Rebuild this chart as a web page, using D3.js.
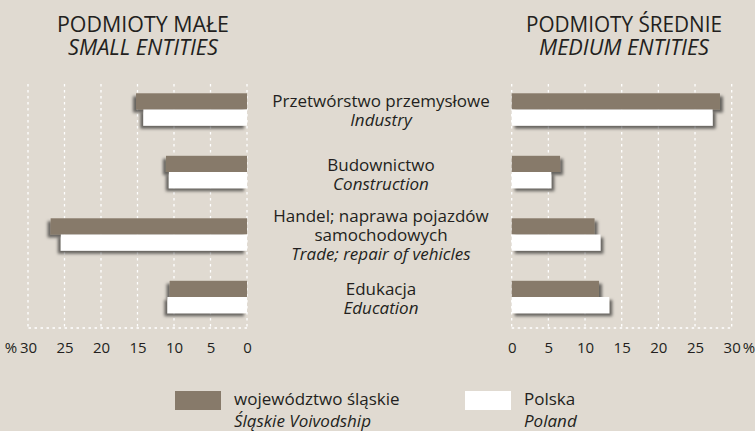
<!DOCTYPE html>
<html>
<head>
<meta charset="utf-8">
<script src="https://cdn.jsdelivr.net/npm/d3@7"></script>
<style>
  body { margin: 0; background: #e0dad1; }
  svg { display: block; font-family: "Open Sans", "Noto Sans", sans-serif; }
  text { fill: #231f20; }
</style>
</head>
<body>
<div class="chart"></div>
<script>
const categories = [
    ["Przetwórstwo przemysłowe", "Industry"],
    ["Budownictwo", "Construction"],
    ["Handel; naprawa pojazdów", "samochodowych", "Trade; repair of vehicles"],
    ["Edukacja", "Education"]
];
const seriesNames = [["województwo śląskie", "Śląskie Voivodship"], ["Polska", "Poland"]];
const smallSilesia = [15.2, 11.1, 26.9, 10.6];
const smallPoland = [14.2, 10.7, 25.5, 10.9];
const mediumSilesia = [28.4, 6.6, 11.3, 11.9];
const mediumPoland = [27.4, 5.4, 12.1, 13.3];
const tickValues = [0, 5, 10, 15, 20, 25, 30];

const width = 755, height = 431;
const brown = "#877a6a";

const svg = d3.select(".chart")
    .append("svg")
    .attr("width", width)
    .attr("height", height);

svg.append("rect").attr("width", width).attr("height", height).attr("fill", "#e0dad1");

const defs = svg.append("defs");
[["shadowL", -3], ["shadowR", 3]].forEach(([id, dx]) => {
    defs.append("filter").attr("id", id)
        .attr("x", "-20%").attr("y", "-50%").attr("width", "140%").attr("height", "200%")
        .append("feDropShadow")
        .attr("dx", dx).attr("dy", 3)
        .attr("stdDeviation", 1.6)
        .attr("flood-color", "#000")
        .attr("flood-opacity", 0.55);
});

const yCenter = d3.scalePoint().domain(d3.range(categories.length)).range([109.5, 297]);
const ySub = d3.scaleBand().domain([0, 1]).range([-16.2, 16.2]);

const xLeft = d3.scaleLinear().domain([0, 30]).range([247, 28]);
const xRight = d3.scaleLinear().domain([0, 30]).range([511.7, 731.7]);

const gridTop = 84, gridBottom = 328;

function panel(x, silesia, poland, side) {
    const g = svg.append("g");
    // grid
    g.selectAll("line.grid")
        .data(tickValues)
        .enter()
        .append("line")
        .attr("x1", d => x(d)).attr("x2", d => x(d))
        .attr("y1", gridTop).attr("y2", gridBottom)
        .attr("stroke", "#fff")
        .attr("stroke-width", 1.3)
        .attr("stroke-dasharray", "2.5,3.5");
    g.append("line")
        .attr("x1", x(0)).attr("x2", x(30))
        .attr("y1", gridBottom).attr("y2", gridBottom)
        .attr("stroke", "#fff")
        .attr("stroke-width", 1.3)
        .attr("stroke-dasharray", "2.5,3.5");

    const rows = [];
    silesia.forEach((v, i) => rows.push({ i: i, s: 0, v: v }));
    poland.forEach((v, i) => rows.push({ i: i, s: 1, v: v }));

    g.selectAll("rect.bar")
        .data(rows)
        .enter()
        .append("rect")
        .attr("x", d => Math.min(x(0), x(d.v)))
        .attr("y", d => yCenter(d.i) + ySub(d.s))
        .attr("width", d => Math.abs(x(d.v) - x(0)))
        .attr("height", ySub.bandwidth())
        .attr("fill", d => d.s === 0 ? brown : "#fff")
        .attr("filter", side === "left" ? "url(#shadowL)" : "url(#shadowR)");

    const axis = d3.axisBottom(x).tickValues(tickValues).tickSize(0).tickPadding(0);
    const ax = g.append("g")
        .attr("transform", "translate(0,342)")
        .call(axis);
    ax.select(".domain").remove();
    ax.selectAll("text")
        .attr("font-size", 15)
        .attr("font-family", "Open Sans, Noto Sans, sans-serif")
        .attr("fill", "#231f20");
    g.append("text")
        .attr("x", side === "left" ? 11 : 749)
        .attr("y", 353.3)
        .attr("text-anchor", "middle")
        .attr("font-size", 15)
        .text("%");
}

panel(xLeft, smallSilesia, smallPoland, "left");
panel(xRight, mediumSilesia, mediumPoland, "right");

// titles
const titles = [
    { x: 143, lines: ["PODMIOTY MAŁE", "SMALL ENTITIES"], w: [172, 150] },
    { x: 624, lines: ["PODMIOTY ŚREDNIE", "MEDIUM ENTITIES"], w: [196, 170] }
];
titles.forEach(t => {
    t.lines.forEach((s, k) => {
        svg.append("text")
            .attr("x", t.x)
            .attr("y", k === 0 ? 32 : 55)
            .attr("text-anchor", "middle")
            .attr("font-size", 21)
            .attr("font-style", k === 1 ? "italic" : "normal")
            .attr("textLength", t.w[k])
            .attr("lengthAdjust", "spacingAndGlyphs")
            .text(s);
    });
});

// category labels
const labelTop = [106.7, 170.7, 221.7, 295];
categories.forEach((lines, i) => {
    lines.forEach((s, k) => {
        svg.append("text")
            .attr("x", 381)
            .attr("y", labelTop[i] + k * 19.3)
            .attr("text-anchor", "middle")
            .attr("font-size", 17)
            .attr("font-style", k === lines.length - 1 ? "italic" : "normal")
            .text(s);
    });
});

// legend
const legend = [
    { x: 175, color: brown, names: seriesNames[0] },
    { x: 465, color: "#fff", names: seriesNames[1] }
];
legend.forEach(l => {
    svg.append("rect")
        .attr("x", l.x).attr("y", 391)
        .attr("width", 46).attr("height", 19)
        .attr("fill", l.color);
    l.names.forEach((s, k) => {
        svg.append("text")
            .attr("x", l.x + 59)
            .attr("y", k === 0 ? 405 : 426.5)
            .attr("font-size", 17)
            .attr("font-style", k === 1 ? "italic" : "normal")
            .text(s);
    });
});
</script>
</body>
</html>
